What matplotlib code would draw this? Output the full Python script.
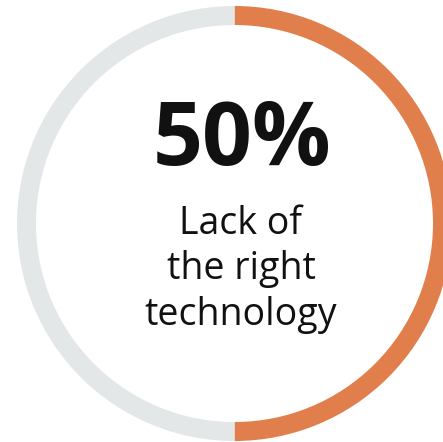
import matplotlib.pyplot as plt

# share of respondents citing the barrier, and the remainder
shares = [50, 50]
ring_colors = ["#E07E4C", "#E4E7E8"]
headline = "50%"
caption_lines = ["Lack of", "the right", "technology"]

W, H = 443, 442
fig = plt.figure(figsize=(W / 100, H / 100), dpi=100)
ax = fig.add_axes([0, 0, 1, 1])
ax.set_xlim(0, W)
ax.set_ylim(0, H)
ax.set_aspect("equal")
ax.axis("off")

cx, cy = 234.5, H - 223.5
ax.pie(shares, colors=ring_colors, startangle=90, counterclock=False,
       center=(cx, cy), radius=217.5,
       wedgeprops=dict(width=19, linewidth=0))
ax.set_xlim(0, W)
ax.set_ylim(0, H)

ax.text(242, H - 165, headline, ha="center", va="baseline",
        fontsize=63, fontweight="bold", family="Open Sans", color="#111111")

# caption, one line per baseline
baseline = 234
for line in caption_lines:
    ax.text(241, H - baseline, line, ha="center", va="baseline",
            fontsize=27, family="Open Sans", color="#111111")
    baseline += 45.5

fig.savefig("out.png", dpi=100)
